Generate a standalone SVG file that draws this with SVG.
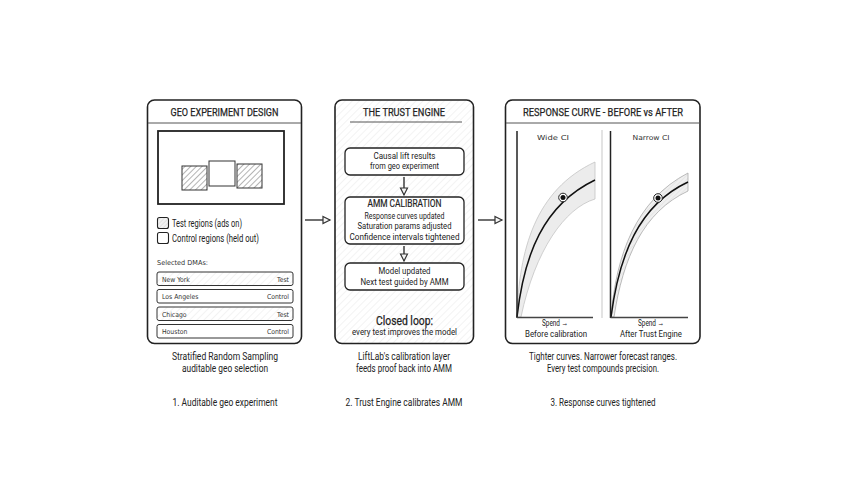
<svg xmlns="http://www.w3.org/2000/svg" width="848" height="478" viewBox="0 0 848 478">
<defs>
<pattern id="hatch" width="4" height="4" patternUnits="userSpaceOnUse" patternTransform="rotate(45)">
<rect width="4" height="4" fill="#fff"/>
<line x1="0" y1="0" x2="0" y2="4" stroke="#444" stroke-width="0.8"/>
</pattern>
<pattern id="hatchLight" width="5" height="5" patternUnits="userSpaceOnUse" patternTransform="rotate(45)">
<rect width="5" height="5" fill="#fff"/>
<line x1="0" y1="0" x2="0" y2="5" stroke="#e2e2e2" stroke-width="0.8"/>
</pattern>
<pattern id="hatchBox" width="3" height="3" patternUnits="userSpaceOnUse" patternTransform="rotate(45)">
<rect width="3" height="3" fill="#f2f2f2"/>
<line x1="0" y1="0" x2="0" y2="3" stroke="#bbb" stroke-width="0.6"/>
</pattern>
<pattern id="hatchBand" width="3" height="3" patternUnits="userSpaceOnUse" patternTransform="rotate(45)">
<rect width="3" height="3" fill="#f0f0f0"/>
<line x1="0" y1="0" x2="0" y2="3" stroke="#cfcfcf" stroke-width="0.6"/>
</pattern>
<marker id="open" markerWidth="10" markerHeight="10" refX="8" refY="5" orient="auto" markerUnits="userSpaceOnUse">
<path d="M1,1.5 L8,5 L1,8.5 Z" fill="#f4f4f4" stroke="#333" stroke-width="1.2"/>
</marker>
<style>
.panel{fill:#fff;stroke:#222;stroke-width:1.6}
.box{fill:#fff;stroke:#222;stroke-width:1.3}
.div{stroke:#555;stroke-width:1}
.t{font-family:Roboto,"Liberation Sans",sans-serif;fill:#222;text-anchor:middle}
.title{font-size:11px;stroke:#222;stroke-width:0.25}
.s{font-size:9.5px}
.cap{font-size:10px}
.hand{font-family:"DejaVu Sans Condensed","Liberation Sans",sans-serif;font-size:6.8px;fill:#333}
.conn{stroke:#333;stroke-width:1.4;fill:none}
</style>
</defs>
<rect width="848" height="478" fill="#fff"/>

<g id="panel-geo">
<rect class="panel" x="147.5" y="100" width="154" height="243.5" rx="7"/>
<text class="t title" x="224.5" y="116" textLength="108" lengthAdjust="spacingAndGlyphs">GEO EXPERIMENT DESIGN</text>
<line class="div" x1="148" y1="123" x2="301" y2="123"/>
<rect x="158" y="131" width="126" height="73" fill="#fff" stroke="#222" stroke-width="1.8"/>
<rect x="182" y="166" width="25" height="24" fill="url(#hatch)" stroke="#333" stroke-width="1"/>
<rect x="209" y="161" width="26" height="25" fill="#fff" stroke="#333" stroke-width="1"/>
<rect x="237" y="164" width="25" height="24" fill="url(#hatch)" stroke="#333" stroke-width="1"/>
<rect x="157.5" y="217.5" width="11" height="11" rx="2" fill="url(#hatchBox)" stroke="#222" stroke-width="1.1"/>
<text class="t cap" x="172" y="227" style="text-anchor:start" textLength="70" lengthAdjust="spacingAndGlyphs">Test regions (ads on)</text>
<rect x="157.5" y="232.5" width="11" height="11" rx="2" fill="#fff" stroke="#222" stroke-width="1.1"/>
<text class="t cap" x="172" y="242" style="text-anchor:start" textLength="87" lengthAdjust="spacingAndGlyphs">Control regions (held out)</text>
<text class="hand" x="157" y="265" textLength="51" lengthAdjust="spacingAndGlyphs">Selected DMAs:</text>
<rect x="157" y="272" width="136" height="13.5" rx="2" fill="url(#hatchLight)" stroke="#333" stroke-width="1"/>
<text class="hand" x="162" y="281.5">New York</text>
<text class="hand" x="289" y="281.5" text-anchor="end">Test</text>
<rect x="157" y="289.5" width="136" height="13.5" rx="2" fill="#fff" stroke="#333" stroke-width="1"/>
<text class="hand" x="162" y="299">Los Angeles</text>
<text class="hand" x="289" y="299" text-anchor="end">Control</text>
<rect x="157" y="307" width="136" height="13.5" rx="2" fill="url(#hatchLight)" stroke="#333" stroke-width="1"/>
<text class="hand" x="162" y="316.5">Chicago</text>
<text class="hand" x="289" y="316.5" text-anchor="end">Test</text>
<rect x="157" y="324.5" width="136" height="13.5" rx="2" fill="#fff" stroke="#333" stroke-width="1"/>
<text class="hand" x="162" y="334">Houston</text>
<text class="hand" x="289" y="334" text-anchor="end">Control</text>
<text class="t cap" x="225" y="360" textLength="106" lengthAdjust="spacingAndGlyphs">Stratified Random Sampling</text>
<text class="t cap" x="225" y="372" textLength="86" lengthAdjust="spacingAndGlyphs">auditable geo selection</text>
<text class="t cap" x="225" y="406" textLength="105" lengthAdjust="spacingAndGlyphs">1. Auditable geo experiment</text>
</g>

<g id="panel-trust">
<rect class="panel" x="335" y="100" width="138.5" height="243.5" rx="7" style="fill:url(#hatchLight)"/>
<text class="t title" x="404" y="116" textLength="82" lengthAdjust="spacingAndGlyphs">THE TRUST ENGINE</text>
<line class="div" x1="350" y1="122" x2="462" y2="122"/>
<g id="node-causal">
<rect class="box" x="345" y="148" width="119" height="27" rx="5"/>
<text class="t s" x="404.5" y="158.5" textLength="62" lengthAdjust="spacingAndGlyphs">Causal lift results</text>
<text class="t s" x="404.5" y="169" textLength="69" lengthAdjust="spacingAndGlyphs">from geo experiment</text>
</g>
<g id="node-amm">
<rect class="box" x="345" y="197" width="119" height="47" rx="5"/>
<text class="t" x="404.5" y="206.5" font-size="10.5" stroke="#222" stroke-width="0.2" textLength="74" lengthAdjust="spacingAndGlyphs">AMM CALIBRATION</text>
<text class="t s" x="404.5" y="218.5" textLength="80" lengthAdjust="spacingAndGlyphs">Response curves updated</text>
<text class="t s" x="404.5" y="229" textLength="94" lengthAdjust="spacingAndGlyphs">Saturation params adjusted</text>
<text class="t s" x="404.5" y="239.5" textLength="110" lengthAdjust="spacingAndGlyphs">Confidence intervals tightened</text>
</g>
<g id="node-model">
<rect class="box" x="345" y="263" width="119" height="27" rx="5"/>
<text class="t s" x="404.5" y="274" textLength="52" lengthAdjust="spacingAndGlyphs">Model updated</text>
<text class="t s" x="404.5" y="284.5" textLength="88" lengthAdjust="spacingAndGlyphs">Next test guided by AMM</text>
</g>
<text class="t" x="404.5" y="324.5" font-size="12.5" stroke="#222" stroke-width="0.25" textLength="57" lengthAdjust="spacingAndGlyphs">Closed loop:</text>
<text class="t" x="404.5" y="335" font-size="8.5" textLength="105" lengthAdjust="spacingAndGlyphs">every test improves the model</text>
<text class="t cap" x="404" y="360" textLength="92" lengthAdjust="spacingAndGlyphs">LiftLab's calibration layer</text>
<text class="t cap" x="404" y="372" textLength="96" lengthAdjust="spacingAndGlyphs">feeds proof back into AMM</text>
<text class="t cap" x="404" y="406" textLength="117" lengthAdjust="spacingAndGlyphs">2. Trust Engine calibrates AMM</text>
</g>

<g id="panel-curve">
<rect class="panel" x="505.5" y="100" width="194.5" height="243.5" rx="7"/>
<text class="t title" x="603" y="116" textLength="160" lengthAdjust="spacingAndGlyphs">RESPONSE CURVE - BEFORE vs AFTER</text>
<line class="div" x1="506" y1="123" x2="700" y2="123"/>
<line x1="602" y1="130" x2="602" y2="318" stroke="#d0d0d0" stroke-width="1.2"/>
<g id="chart-before">
<path d="M517,317 C519,250 535,190 595,162 L595,199 C565,208 535,250 521,317 Z" fill="#ececec" stroke="#c4c4c4" stroke-width="0.8"/>
<path d="M517,317 C524,255 543,205 595,180" fill="none" stroke="#111" stroke-width="1.5"/>
<circle cx="563" cy="197.5" r="4.3" fill="#fff" stroke="#222" stroke-width="1"/>
<circle cx="563" cy="197.5" r="2.5" fill="#111"/>
<line x1="517" y1="131" x2="517" y2="318" stroke="#222" stroke-width="1.5"/>
<line x1="517" y1="317.5" x2="593" y2="317.5" stroke="#444" stroke-width="1.5"/>
<text class="hand" x="553" y="140" text-anchor="middle" textLength="32" lengthAdjust="spacingAndGlyphs">Wide CI</text>
<text class="t s" x="555" y="326" textLength="26" lengthAdjust="spacingAndGlyphs">Spend →</text>
<text class="t s" x="556" y="336.5" textLength="62" lengthAdjust="spacingAndGlyphs">Before calibration</text>
</g>
<g id="chart-after">
<path d="M611,317 C616,255 636,200 688,173 L688,191 C643,212 623,258 614,317 Z" fill="url(#hatchBand)" stroke="#aaa" stroke-width="0.8"/>
<path d="M611,317 C619,255 639,205 688,182" fill="none" stroke="#111" stroke-width="1.5"/>
<circle cx="658" cy="198" r="4.3" fill="#fff" stroke="#222" stroke-width="1"/>
<circle cx="658" cy="198" r="2.5" fill="#111"/>
<line x1="610.5" y1="131" x2="610.5" y2="318" stroke="#222" stroke-width="1.5"/>
<line x1="610.5" y1="317.5" x2="688" y2="317.5" stroke="#444" stroke-width="1.5"/>
<text class="hand" x="651" y="140" text-anchor="middle" textLength="37" lengthAdjust="spacingAndGlyphs">Narrow CI</text>
<text class="t s" x="651" y="326" textLength="26" lengthAdjust="spacingAndGlyphs">Spend →</text>
<text class="t s" x="651" y="336.5" textLength="62" lengthAdjust="spacingAndGlyphs">After Trust Engine</text>
</g>
<text class="t cap" x="603" y="360" textLength="148" lengthAdjust="spacingAndGlyphs">Tighter curves. Narrower forecast ranges.</text>
<text class="t cap" x="603" y="372" textLength="112" lengthAdjust="spacingAndGlyphs">Every test compounds precision.</text>
<text class="t cap" x="603" y="406" textLength="105" lengthAdjust="spacingAndGlyphs">3. Response curves tightened</text>
</g>

<g id="connectors">
<line class="conn" x1="305" y1="220" x2="330" y2="220" marker-end="url(#open)"/>
<line class="conn" x1="478" y1="220" x2="502" y2="220" marker-end="url(#open)"/>
<line class="conn" x1="404" y1="177" x2="404" y2="195" marker-end="url(#open)"/>
<line class="conn" x1="404" y1="246" x2="404" y2="261" marker-end="url(#open)"/>
</g>
</svg>
